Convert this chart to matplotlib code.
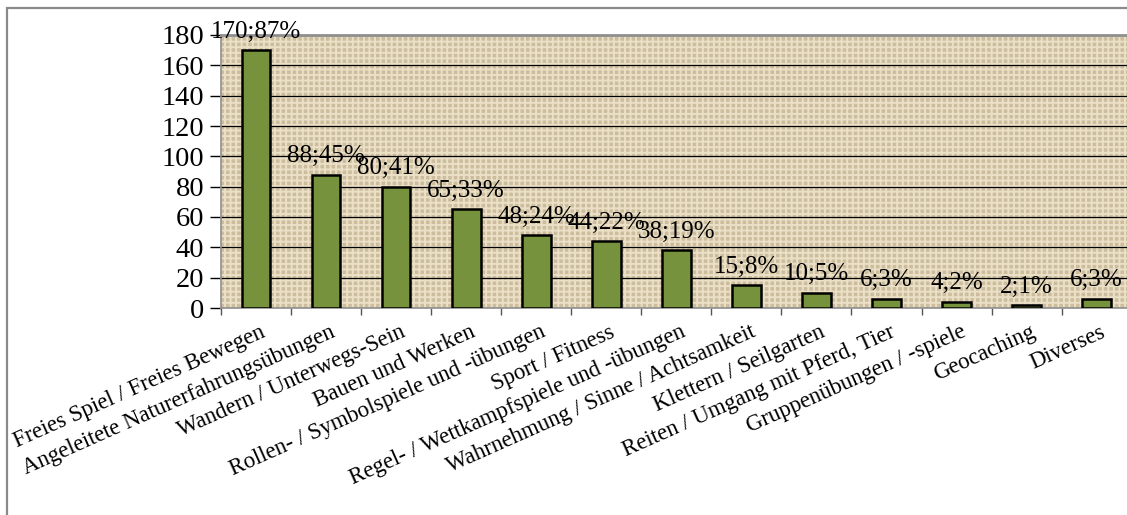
import matplotlib.pyplot as plt
from matplotlib.patches import Rectangle

plt.rcParams['font.family'] = ['Liberation Serif', 'DejaVu Serif']
plt.rcParams['hatch.linewidth'] = 1.4

# Daten
kategorien = [
    'Freies Spiel / Freies Bewegen',
    'Angeleitete Naturerfahrungsübungen',
    'Wandern / Unterwegs-Sein',
    'Bauen und Werken',
    'Rollen- / Symbolspiele und -übungen',
    'Sport / Fitness',
    'Regel- / Wettkampfspiele und -übungen',
    'Wahrnehmung / Sinne / Achtsamkeit',
    'Klettern / Seilgarten',
    'Reiten / Umgang mit Pferd, Tier',
    'Gruppenübungen / -spiele',
    'Geocaching',
    'Diverses',
]
anzahl = [170, 88, 80, 65, 48, 44, 38, 15, 10, 6, 4, 2, 6]
prozent = [87, 45, 41, 33, 24, 22, 19, 8, 5, 3, 2, 1, 3]
y_ticks = [0, 20, 40, 60, 80, 100, 120, 140, 160, 180]

fig = plt.figure(figsize=(11.27, 5.15), dpi=100)

# grauer Rahmen (rechts/unten abgeschnitten)
fig.patches.append(Rectangle((7 / 1127, -0.1), 1.2, 1 - 7.5 / 515 + 0.1,
                             transform=fig.transFigure, fill=False,
                             edgecolor='#8a8a8a', linewidth=1.6))

ax = fig.add_axes([221 / 1127, 1 - 308 / 515, 910.7 / 1127, 273 / 515])
ax.set_facecolor('#cbbd9e')
# Sackleinen-Struktur grob nachgebildet
ax.add_patch(Rectangle((0, 0), 1, 1, transform=ax.transAxes, facecolor='none',
                       edgecolor='#ebe0c6', hatch='+++', linewidth=0, zorder=0.5))

x = list(range(len(kategorien)))
ax.bar(x, anzahl, width=0.41, color='#76923c', edgecolor='black',
       linewidth=1.8, zorder=3)

for xi, n, p in zip(x, anzahl, prozent):
    ax.annotate(f'{n};{p}%', (xi, n), xytext=(0, 9), textcoords='offset points',
                ha='center', va='baseline', fontsize=18, zorder=4,
                annotation_clip=False)

ax.set_xlim(-0.5, len(kategorien) - 0.5)
ax.set_ylim(0, 180)
ax.set_yticks(y_ticks)
ax.yaxis.grid(True, color='black', linewidth=0.9)
ax.set_axisbelow(True)

ax.set_xticks([i - 0.5 for i in x])
ax.set_xticklabels([])
ax.tick_params(axis='x', length=5, color='#555555', width=1)
ax.tick_params(axis='y', length=8, color='black', width=1, labelsize=20.5, pad=4)

for xi, lab in zip(x, kategorien):
    ax.text(xi + 0.05, -9, lab, rotation=24, rotation_mode='anchor',
            ha='right', va='top', fontsize=16.5, transform=ax.transData,
            clip_on=False)

ax.spines['right'].set_visible(False)
ax.spines['top'].set_color('#8f8f8f')
ax.spines['top'].set_linewidth(2)
ax.spines['left'].set_color('#8f8f8f')
ax.spines['bottom'].set_color('#8f8f8f')
ax.spines['left'].set_linewidth(1.2)
ax.spines['bottom'].set_linewidth(1.2)

fig.savefig('out.png', dpi=100)
